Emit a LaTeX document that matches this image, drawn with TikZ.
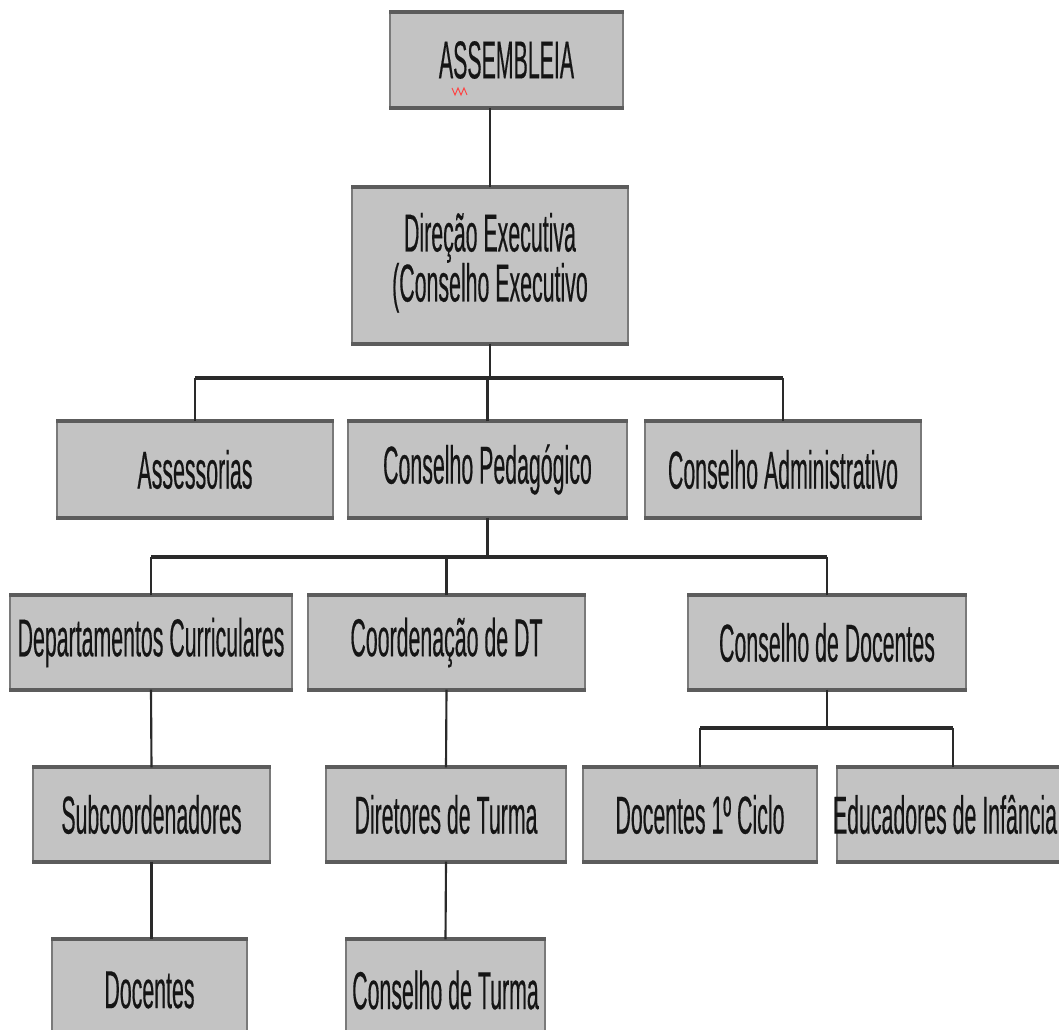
\documentclass[tikz,border=0pt]{standalone}
\usepackage{fontspec}
\setmainfont{Liberation Sans}
\newfontfamily\condfont[FakeStretch=0.40,FakeBold=0.3]{Liberation Sans}
\definecolor{boxfill}{HTML}{C3C3C3}
\definecolor{edgedark}{HTML}{5C5C5C}
\definecolor{sidegray}{HTML}{7A7A7A}
\definecolor{linecol}{HTML}{2A2A2A}
\definecolor{textcol}{HTML}{151515}
\tikzset{
  orgbox/.style={fill=boxfill, draw=sidegray, line width=0.9pt, inner sep=0pt,
    font=\condfont\fontsize{40}{37.5}\selectfont, text=textcol, align=center},
  edgeline/.style={draw=edgedark, line width=3pt},
  conn/.style={draw=linecol, line width=1.6pt},
  hbar/.style={draw=linecol, line width=3pt}
}
\newcommand\OrgBox[6]{%
  \node[orgbox, minimum width={(#4-#2)*0.75pt}, minimum height={(#5-#3)*0.75pt}]
    (#1) at ({(#2+#4)/2},{(#3+#5)/2}) {#6};
  \draw[edgeline] (#1.north west) -- (#1.north east);
  \draw[edgeline] (#1.south west) -- (#1.south east);}
\begin{document}
\begin{tikzpicture}[x=0.75pt, y=-0.75pt]
\useasboundingbox (0,0) rectangle (1059,1030);
\fill[white] (0,0) rectangle (1059,1030);
\clip (0,0) rectangle (1059,1030);

\OrgBox{asm}{390}{13}{623}{107}{ASSEMBLEIA}
\OrgBox{dir}{352}{188}{628}{343}{Direção Executiva\\ (Conselho Executivo\\[-25pt]}
\OrgBox{ass}{57}{422}{333}{517}{Assessorias}
\OrgBox{ped}{348}{422}{627}{517}{Conselho Pedagógico}
\OrgBox{adm}{645}{422}{921}{517}{Conselho Administrativo}
\OrgBox{dep}{10}{596}{292}{689}{Departamentos Curriculares}
\OrgBox{coo}{308}{596}{585}{689}{Coordenação de DT}
\OrgBox{cdo}{688}{596}{966}{689}{Conselho de Docentes}
\OrgBox{sub}{33}{768}{270}{861}{Subcoordenadores}
\OrgBox{dtu}{326}{768}{566}{861}{Diretores de Turma}
\OrgBox{dpc}{583}{768}{817}{861}{Docentes 1º Ciclo}
\OrgBox{edu}{837}{768}{1069}{861}{\hspace*{-12pt}Educadores de Infância}
\OrgBox{doc}{52}{940}{247}{1040}{Docentes}
\OrgBox{ctu}{346}{940}{545}{1040}{Conselho de Turma}

% spell-check squiggle
\draw[red!75, line width=0.7pt] (452,88) -- (455,95) -- (458,88) -- (461,95) -- (464,88) -- (467,95);

\coordinate (b1) at (490,378);
\coordinate (b2) at (487,557);
\coordinate (b3) at (827,728);

\draw[conn] (dir.north) -- (dir.north |- asm.south);
\draw[conn] (dir.south) -- (b1);
\draw[hbar] (ass.north |- b1) -- (adm.north |- b1);
\draw[conn] (ass.north) -- (ass.north |- b1);
\draw[conn] (ped.north) -- (ped.north |- b1);
\draw[conn] (adm.north) -- (adm.north |- b1);

\draw[conn] (ped.south) -- (ped.south |- b2);
\draw[hbar] (dep.north |- b2) -- (cdo.north |- b2);
\draw[conn] (dep.north) -- (dep.north |- b2);
\draw[conn] (coo.north) -- (coo.north |- b2);
\draw[conn] (cdo.north) -- (cdo.north |- b2);

\draw[conn] (cdo.south) -- (b3);
\draw[hbar] (dpc.north |- b3) -- (edu.north |- b3);
\draw[conn] (dpc.north) -- (dpc.north |- b3);
\draw[conn] (edu.north) -- (edu.north |- b3);

\draw[conn] (dep.south) -- (sub.north);
\draw[conn] (sub.south) -- (sub.south |- doc.north);
\draw[conn] (coo.south) -- (dtu.north);
\draw[conn] (dtu.south) -- (ctu.north);
\end{tikzpicture}
\end{document}
